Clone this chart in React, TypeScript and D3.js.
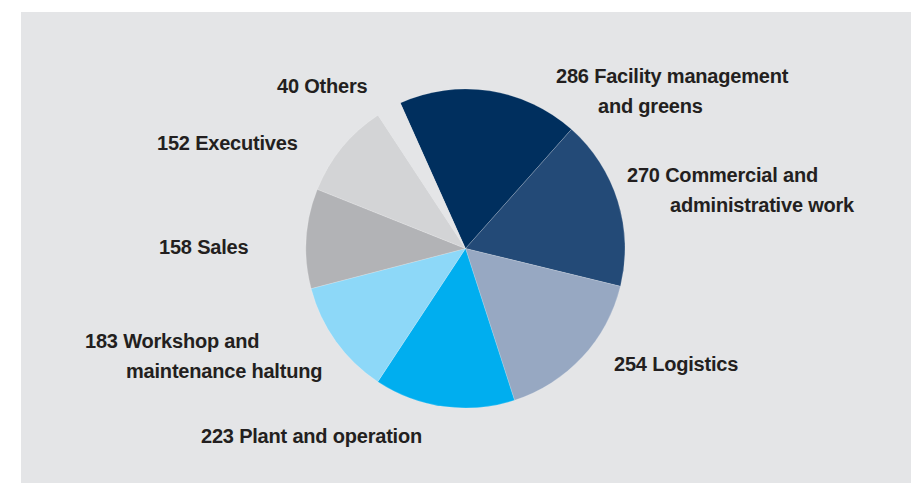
import * as d3 from "d3";
import { useMemo } from "react";

// headcount by area, clockwise from the top
const categories = [
  "Facility management and greens",
  "Commercial and administrative work",
  "Logistics",
  "Plant and operation",
  "Workshop and maintenance haltung",
  "Sales",
  "Executives",
  "Others",
];
const values = [286, 270, 254, 223, 183, 158, 152, 40];
const labelLines = [
  ["286 Facility management", "and greens"],
  ["270 Commercial and", "administrative work"],
  ["254 Logistics"],
  ["223 Plant and operation"],
  ["183 Workshop and", "maintenance haltung"],
  ["158 Sales"],
  ["152 Executives"],
  ["40 Others"],
];

const background = "#e4e5e7";
const sliceColors = [
  "#002f5e",
  "#234a77",
  "#97a8c2",
  "#00aeef",
  "#8dd8f8",
  "#b2b3b6",
  "#d3d4d6",
  background, // "Others" blends into the panel
];

// where each label block sits: first line x, second line x, first baseline
const labelLayout = [
  { x: 556, x2: 598, y: 83 },
  { x: 627, x2: 670, y: 182 },
  { x: 614, x2: 614, y: 371 },
  { x: 201, x2: 201, y: 443 },
  { x: 85, x2: 126, y: 348 },
  { x: 159, x2: 159, y: 254 },
  { x: 157, x2: 157, y: 150 },
  { x: 277, x2: 277, y: 93 },
];

const width = 922;
const height = 483;
const cx = 465.5;
const cy = 248.5;
const radius = 159.5;
const lineGap = 30;

export default function App() {
  const data = useMemo(() => categories.map((name, i) => ({ name, value: values[i] })), []);

  const arcs = useMemo(() => {
    const start = (-24.1 * Math.PI) / 180;
    const pieGen = d3
      .pie<{ name: string; value: number }>()
      .value((d) => d.value)
      .sort(null)
      .startAngle(start)
      .endAngle(start + 2 * Math.PI);
    const arcGen = d3.arc<d3.PieArcDatum<{ name: string; value: number }>>().innerRadius(0).outerRadius(radius);
    return pieGen(data).map((p) => arcGen(p));
  }, [data]);

  const last = categories.length - 1;

  return (
    <svg
      width={width}
      height={height}
      viewBox={`0 0 ${width} ${height}`}
      style={{ position: "absolute", left: 0, top: 0, display: "block" }}
    >
      <rect x={0} y={0} width={width} height={height} fill="#ffffff" />
      <rect x={21} y={12} width={890} height={height - 12} fill={background} />
      <g transform={`translate(${cx}, ${cy})`}>
        {arcs.map((a, i) =>
          a ? (
            <path
              key={i}
              d={a}
              fill={sliceColors[i]}
              stroke={i === last ? "none" : "#ffffff"}
              strokeOpacity={0.3}
              strokeWidth={0.6}
            />
          ) : null
        )}
      </g>
      <g
        fontFamily="'Liberation Sans', Arial, sans-serif"
        fontWeight="bold"
        fontSize={20}
        letterSpacing={-0.2}
        fill="#231f20"
      >
        {labelLines.map((lines, i) =>
          lines.map((t, j) => (
            <text key={`${i}-${j}`} x={j === 0 ? labelLayout[i].x : labelLayout[i].x2} y={labelLayout[i].y + j * lineGap}>
              {t}
            </text>
          ))
        )}
      </g>
    </svg>
  );
}
